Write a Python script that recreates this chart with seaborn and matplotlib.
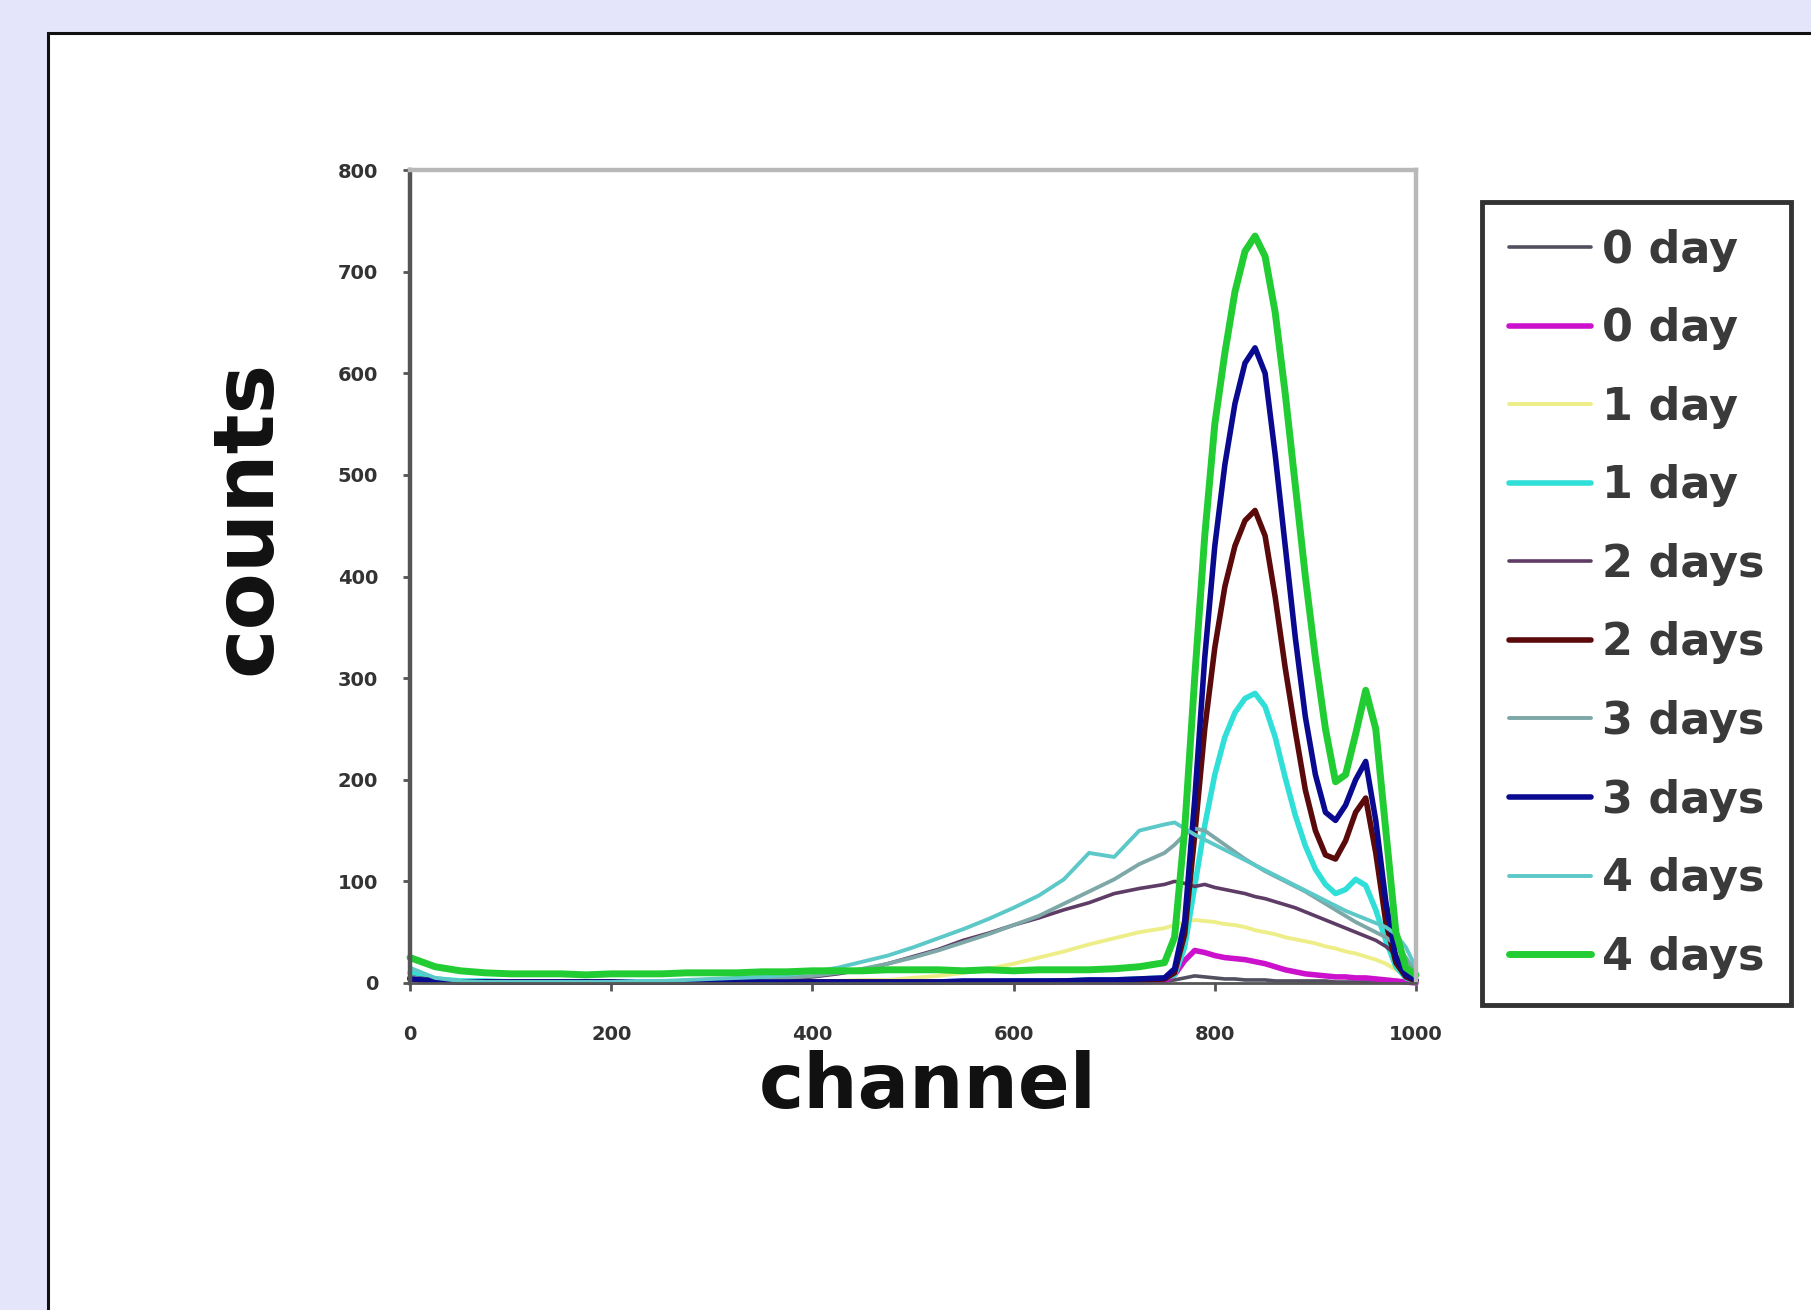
import numpy as np
import pandas as pd
import matplotlib
matplotlib.use("Agg")
import matplotlib.pyplot as plt
from matplotlib.patches import Rectangle
import seaborn as sns

# ---------------- data ----------------
channel = [0, 25, 50, 75, 100, 125, 150, 175, 200, 225, 250, 275, 300, 325, 350,
           375, 400, 425, 450, 475, 500, 525, 550, 575, 600, 625, 650, 675, 700,
           725, 750,
           760, 770, 780, 790, 800, 810, 820, 830, 840, 850, 860, 870, 880, 890,
           900, 910, 920, 930, 940, 950, 960, 970, 980, 990, 1000]

labels = ["0 day", "0 day", "1 day", "1 day", "2 days", "2 days",
          "3 days", "3 days", "4 days", "4 days"]

day0_a = [6, 3, 2, 2, 1, 1, 1, 1, 1, 1, 1, 1, 1, 1, 1, 1, 1, 1, 1, 1, 1, 1, 1, 1, 1, 1, 1, 1, 1, 2, 2,
          3, 5, 7, 6, 5, 4, 4, 3, 3, 3, 2, 2, 2, 2, 2, 2, 1, 1, 1, 1, 1, 1, 1, 1, 0]
day0_b = [4, 2, 1, 1, 1, 1, 1, 1, 1, 1, 1, 1, 1, 1, 1, 1, 1, 1, 1, 1, 1, 1, 1, 1, 1, 1, 1, 1, 1, 1, 2,
          8, 22, 32, 30, 27, 25, 24, 23, 21, 19, 16, 13, 11, 9, 8, 7, 6, 6, 5, 5, 4, 3, 2, 1, 0]
day1_a = [8, 3, 2, 2, 1, 1, 1, 1, 1, 1, 1, 1, 1, 1, 1, 1, 2, 2, 3, 3, 5, 7, 10, 14, 19, 25, 31, 38, 44, 50, 54,
          57, 60, 62, 61, 60, 58, 57, 55, 52, 50, 48, 45, 43, 41, 39, 36, 34, 31, 29, 26, 23, 19, 13, 7, 2]
day1_b = [10, 4, 2, 2, 1, 1, 1, 1, 1, 1, 1, 1, 1, 1, 1, 1, 1, 1, 1, 1, 1, 1, 1, 1, 2, 2, 2, 3, 3, 4, 5,
          8, 35, 95, 155, 205, 242, 266, 280, 285, 272, 242, 202, 165, 135, 112, 97, 88, 92, 102, 96, 72, 42, 16, 5, 2]
day2_a = [5, 2, 1, 1, 1, 1, 1, 1, 1, 1, 1, 1, 2, 2, 3, 4, 6, 9, 13, 19, 26, 33, 42, 49, 57, 64, 72, 79, 88, 93, 97,
          100, 98, 95, 97, 94, 92, 90, 88, 85, 83, 80, 77, 74, 70, 66, 62, 58, 54, 50, 46, 42, 36, 28, 15, 5]
day2_b = [5, 2, 1, 1, 1, 1, 1, 1, 1, 1, 1, 1, 1, 1, 1, 1, 1, 1, 1, 1, 1, 1, 1, 1, 1, 1, 2, 2, 2, 3, 4,
          10, 48, 145, 250, 330, 390, 430, 455, 465, 440, 380, 310, 248, 190, 150, 126, 122, 140, 168, 182, 128, 60, 20, 6, 2]
day3_a = [6, 2, 1, 1, 1, 1, 1, 1, 1, 1, 1, 2, 2, 3, 4, 5, 7, 10, 14, 19, 25, 32, 40, 48, 57, 66, 78, 90, 102, 117, 128,
          136, 146, 152, 150, 143, 136, 129, 122, 116, 110, 105, 100, 95, 90, 84, 78, 72, 66, 60, 55, 50, 45, 38, 25, 10]
day3_b = [4, 2, 1, 1, 1, 1, 1, 1, 1, 1, 1, 1, 1, 1, 1, 1, 1, 1, 1, 1, 1, 1, 2, 2, 2, 2, 2, 3, 3, 4, 5,
          14, 60, 180, 320, 430, 510, 570, 610, 625, 600, 520, 430, 340, 262, 205, 168, 160, 175, 200, 218, 160, 80, 25, 8, 3]
day4_a = [15, 5, 2, 1, 1, 1, 1, 1, 1, 2, 2, 3, 4, 5, 6, 8, 11, 15, 21, 27, 35, 44, 53, 63, 74, 86, 102, 128, 124, 150, 156,
          158, 152, 146, 141, 136, 131, 126, 121, 116, 111, 106, 101, 96, 91, 86, 81, 76, 71, 67, 63, 59, 55, 48, 35, 15]
day4_b = [25, 16, 12, 10, 9, 9, 9, 8, 9, 9, 9, 10, 10, 10, 11, 11, 12, 12, 12, 13, 13, 13, 12, 13, 12, 13, 13, 13, 14, 16, 20,
          45, 150, 300, 440, 550, 620, 680, 720, 735, 715, 660, 580, 490, 400, 320, 250, 198, 205, 245, 288, 250, 150, 50, 15, 8]

series = [day0_a, day0_b, day1_a, day1_b, day2_a, day2_b, day3_a, day3_b, day4_a, day4_b]

colors = ["#505060", "#cc11cc", "#eeee88", "#30e0d8", "#5e3c66",
          "#5a0a0a", "#7ea8a8", "#0a0a90", "#5cc8c8", "#22cc33"]
widths = [2.6, 4.0, 2.8, 4.0, 2.6, 4.0, 2.8, 4.0, 2.8, 5.0]

y_ticks = [0, 100, 200, 300, 400, 500, 600, 700, 800]
x_ticks = [0, 200, 400, 600, 800, 1000]

# ---------------- style ----------------
sns.set_style("white")
plt.rcParams["font.family"] = ["DejaVu Sans"]

fig = plt.figure(figsize=(18.11, 13.10), dpi=100)
fig.patch.set_facecolor("#e4e4fa")

# white panel with dark border (extends past right/bottom edges)
panel = Rectangle((48 / 1811, -0.1), 1.2, 0.1 + (1310 - 33) / 1310,
                  transform=fig.transFigure, facecolor="white",
                  edgecolor="#111111", linewidth=2.2, zorder=-10)
fig.add_artist(panel)

ax = fig.add_axes([410 / 1811, 1 - 983 / 1310, 1006 / 1811, 813 / 1310])
ax.set_facecolor("white")
ax.set_zorder(5)

for vals, lab, col, lw in zip(series, labels, colors, widths):
    sns.lineplot(x=channel, y=vals, color=col, linewidth=lw, label=lab, ax=ax)

for ln in ax.lines:
    ln.set_clip_on(False)

ax.set_xlim(0, 1000)
ax.set_ylim(0, 800)
ax.set_xticks(x_ticks)
ax.set_yticks(y_ticks)
ax.set_xticklabels([str(v) for v in x_ticks], fontsize=14, fontweight="bold", color="#333333")
ax.set_yticklabels([str(v) for v in y_ticks], fontsize=14, fontweight="bold", color="#333333")
ax.tick_params(axis="y", direction="out", length=5, width=2, color="#555555", pad=18, left=True)
ax.tick_params(axis="x", direction="out", length=6, width=2, color="#555555", pad=24, bottom=True)

ax.spines["left"].set_color("#555555")
ax.spines["left"].set_linewidth(3.2)
ax.spines["bottom"].set_color("#555555")
ax.spines["bottom"].set_linewidth(2)
for s in ("top", "right"):
    ax.spines[s].set_color("#b8b8b8")
    ax.spines[s].set_linewidth(3.2)

ax.set_ylabel("counts", fontsize=60, fontweight="bold", color="#111111")
ax.yaxis.set_label_coords(-0.122, 0.573)
ax.set_xlabel("channel", fontsize=55, fontweight="bold", color="#111111")
ax.xaxis.set_label_coords(0.515, -0.083)

leg = ax.legend(loc="upper left", bbox_to_anchor=(1482 / 1811, 1 - 202 / 1310),
                bbox_transform=fig.transFigure, frameon=True, fancybox=False,
                edgecolor="#333333", framealpha=1, facecolor="white",
                borderpad=0.6, labelspacing=0.8, handlelength=1.85,
                handletextpad=0.25, borderaxespad=0,
                prop={"size": 32, "weight": "bold"})
leg.get_frame().set_linewidth(3.5)
for t in leg.get_texts():
    t.set_color("#3a3a3a")

fig.savefig("out.png", dpi=100, facecolor=fig.get_facecolor())
